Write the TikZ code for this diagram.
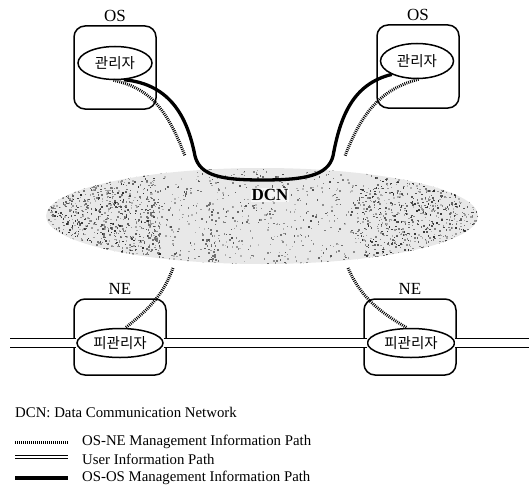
\documentclass[tikz,border=0pt]{standalone}
\usepackage{fontspec}
\setmainfont{Liberation Serif}
\newfontfamily\kr{Noto Sans CJK KR}
\usetikzlibrary{shapes.geometric}

\tikzset{
  sysbox/.style={draw, line width=1.5pt, rounded corners=11pt, minimum width=82pt, minimum height=83pt},
  nebox/.style={draw, line width=1.5pt, rounded corners=11pt, minimum width=92pt, minimum height=76pt},
  role/.style={draw, ellipse, line width=1.5pt, fill=white, inner sep=0pt, font=\kr\fontsize{14.5}{15}\selectfont},
  boxlabel/.style={font=\fontsize{17}{18}\selectfont},
  mgmtpath/.style={line width=3pt, dash pattern=on 0.9pt off 1.1pt},
  ospath/.style={line width=3.3pt},
  userpath/.style={double=white, double distance=8pt, line width=1.2pt},
  legendtext/.style={anchor=west, font=\fontsize{14.8}{15}\selectfont, inner sep=0pt}
}

\begin{document}
\begin{tikzpicture}[x=1pt, y=-1pt]
\useasboundingbox (0,0) rectangle (529,484);
\fill[white] (0,0) rectangle (529,484);

% DCN cloud: light grey base with random specks, darker towards both ends
\begin{scope}
  \clip (262,216) ellipse [x radius=216, y radius=48];
  \fill[gray!18] (40,165) rectangle (485,268);
  \pgfmathsetseed{7}
  % specks across the whole cloud
  \foreach \i in {1,...,1100} {
    \pgfmathsetmacro{\px}{46+rnd*432}
    \pgfmathsetmacro{\py}{168+rnd*96}
    \pgfmathsetmacro{\sh}{25+rnd*45}
    \fill[black!\sh] (\px,\py) rectangle ++(1.5,1.5);
  }
  % denser specks on the left and right parts
  \foreach \xa/\xw in {50/110, 360/120} {
    \foreach \i in {1,...,700} {
      \pgfmathsetmacro{\px}{\xa+rnd*\xw}
      \pgfmathsetmacro{\py}{168+rnd*96}
      \pgfmathsetmacro{\sh}{30+rnd*55}
      \fill[black!\sh] (\px,\py) rectangle ++(1.5,1.5);
    }
  }
  % faint vertical streaks
  \foreach \sx in {145,205} {
    \foreach \j in {1,...,40} {
      \pgfmathsetmacro{\px}{\sx+rnd*14}
      \pgfmathsetmacro{\py}{200+rnd*66}
      \fill[black!55] (\px,\py) rectangle ++(1.5,2);
    }
  }
\end{scope}
\node[font=\bfseries\fontsize{17}{18}\selectfont, fill=white, fill opacity=0.6, text opacity=1, inner sep=1pt] (dcn) at (270,195) {DCN};

% free ends of the user information path
\coordinate (wend) at (10,343);
\coordinate (eend) at (529,343);

% Operation systems
\node[sysbox] (osL) at (115,67.5) {};
\node[sysbox] (osR) at (418,66.5) {};
\node[boxlabel, above] at (osL.north) {OS};
\node[boxlabel, above] at (osR.north) {OS};
\node[role, minimum width=74pt, minimum height=33pt] (mgrL) at (115,63) {관리자};
\node[role, minimum width=73pt, minimum height=35pt] (mgrR) at (417,61) {관리자};

% Network elements
\node[nebox] (neL) at (120,337) {};
\node[nebox] (neR) at (410,337) {};
\node[boxlabel, above] at (neL.north) {NE};
\node[boxlabel, above] at (neR.north) {NE};
\node[role, minimum width=86pt, minimum height=29pt] (agL) at (120,343) {피관리자};
\node[role, minimum width=87pt, minimum height=29pt] (agR) at (411,343) {피관리자};

\draw[userpath] (wend) -- (agL);
\draw[userpath] (agL) -- (agR);
\draw[userpath] (agR) -- (eend);

% OS-OS management path through the DCN
\draw[ospath] (mgrL.-62) .. controls (172,84) and (188,120) .. (195,156)
  .. controls (200,176) and (222,180) .. (262,180)
  .. controls (304,180) and (328,176) .. (333,156)
  .. controls (340,118) and (352,84) .. (mgrR.-152);

% OS-NE management paths
\coordinate (dL) at (185,156);
\coordinate (dR) at (345,156);
\coordinate (uL) at (173,268);
\coordinate (uR) at (348,268);
\draw[mgmtpath] (mgrL.-95) .. controls (148,88) and (166,106) .. (dL);
\draw[mgmtpath] (mgrR.-85) .. controls (386,88) and (364,106) .. (dR);
\draw[mgmtpath] (uL) .. controls (163,295) and (150,308) .. (agL.70);
\draw[mgmtpath] (uR) .. controls (360,295) and (376,310) .. (agR.105);

% Legend
\node[legendtext] (lg0) at (15,412) {DCN: Data Communication Network};
\coordinate (a1) at (15,442); \coordinate (b1) at (68,442);
\coordinate (a2) at (15,457); \coordinate (b2) at (68,457);
\coordinate (a3) at (15,478); \coordinate (b3) at (68,478);
\draw[mgmtpath] (a1) -- (b1);
\draw[double=white, double distance=2.5pt, line width=1.1pt] (a2) -- (b2);
\draw[ospath] (a3) -- (b3);
\node[legendtext] (lg1) at (82,442) {OS-NE Management Information Path};
\node[legendtext] (lg2) at (82,459) {User Information Path};
\node[legendtext] (lg3) at (82,478) {OS-OS Management Information Path};
\end{tikzpicture}
\end{document}
